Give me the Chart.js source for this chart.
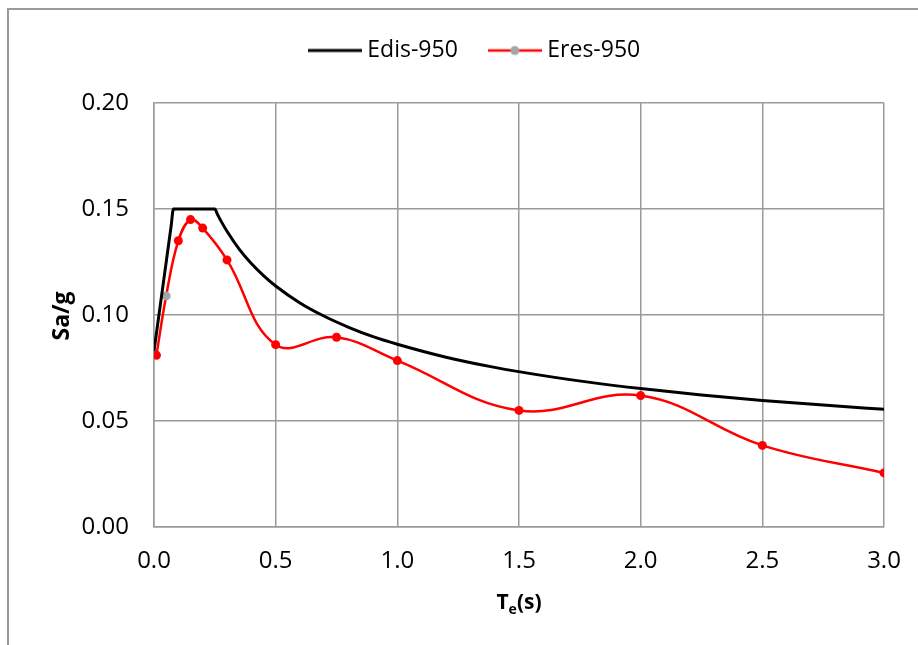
<!DOCTYPE html>
<html>
<head>
<meta charset="utf-8">
<script src="https://cdn.jsdelivr.net/npm/chart.js@4.4.1/dist/chart.umd.min.js"></script>
<style>
  html, body { margin: 0; padding: 0; background: #fff; }
  #wrap { position: relative; width: 918px; height: 645px; overflow: hidden; }
  #frame { position: absolute; left: 7px; top: 8px; width: 1000px; height: 1000px;
           border: 2px solid #9a9a9a; box-sizing: border-box; }
  #c { position: absolute; left: 0; top: 0; }
</style>
</head>
<body>
<div id="wrap">
  <div id="frame"></div>
  <canvas id="c" width="918" height="645"></canvas>
</div>
<script>
// Design spectrum (Edis-950): period T (s) and Sa/g
const edisPeriods = [0, 0.07, 0.08, 0.25, 0.26, 0.275, 0.3, 0.35, 0.4, 0.45, 0.5, 0.6, 0.7, 0.8, 0.9,
                     1.0, 1.2, 1.4, 1.6, 1.8, 2.0, 2.25, 2.5, 2.75, 3.0];
const edisSa = [0.083, 0.1416, 0.150, 0.150, 0.1477, 0.1444, 0.1395, 0.1311, 0.1243, 0.1186, 0.1137,
                0.1057, 0.0994, 0.0942, 0.0898, 0.0862, 0.0801, 0.0753, 0.0714, 0.0681, 0.0653,
                0.0623, 0.0597, 0.0575, 0.0555];

// Response spectrum (Eres-950)
const eresPeriods = [0.01, 0.05, 0.1, 0.15, 0.2, 0.3, 0.5, 0.75, 1.0, 1.5, 2.0, 2.5, 3.0];
const eresSa = [0.081, 0.109, 0.135, 0.145, 0.141, 0.126, 0.086, 0.0895, 0.0785, 0.055,
                0.062, 0.0385, 0.0255];

const seriesNames = ['Edis-950', 'Eres-950'];
const xTicks = { min: 0, max: 3.0, step: 0.5 };
const yTicks = { min: 0, max: 0.20, step: 0.05 };

const FONT = "'Open Sans', 'DejaVu Sans', sans-serif";
Chart.defaults.font.family = FONT;
Chart.defaults.color = '#000';

const toPoints = (xs, ys) => xs.map((x, i) => ({ x: x, y: ys[i] }));

// small legend swatches: a line segment, optionally with a marker in the middle
function swatch(color, width, markerColor) {
  const c = document.createElement('canvas');
  c.width = 54; c.height = 12;
  const g = c.getContext('2d');
  g.strokeStyle = color; g.lineWidth = width;
  g.beginPath(); g.moveTo(0, 6); g.lineTo(54, 6); g.stroke();
  if (markerColor) {
    g.fillStyle = markerColor;
    g.beginPath(); g.arc(27, 6, 4.5, 0, Math.PI * 2); g.fill();
  }
  return c;
}
const legendSwatches = [swatch('#000', 3), swatch('#ff0000', 2.5, '#a5a5a5')];

const LAYOUT = { left: 70, right: 34, top: 3, bottom: 0 };
const PLOT = { left: 154, top: 103, bottom: 527 };

// reserve a fixed band for the legend above the plot
const legendBand = {
  id: 'legendBand',
  beforeUpdate(chart) {
    const lg = chart.legend;
    if (lg && !lg._banded) {
      const fit = lg.fit;
      lg.fit = function () { fit.call(this); this.height = PLOT.top - LAYOUT.top; };
      lg._banded = true;
    }
  }
};

// axis titles (x title carries a subscript)
const axisTitles = {
  id: 'axisTitles',
  afterDraw(chart) {
    const { ctx, chartArea: a } = chart;
    ctx.save();
    ctx.fillStyle = '#000';
    ctx.translate(62, (a.top + a.bottom) / 2 + 1);
    ctx.rotate(-Math.PI / 2);
    ctx.font = 'bold 23px ' + FONT;
    ctx.textAlign = 'center';
    ctx.textBaseline = 'middle';
    ctx.fillText('Sa/g', 0, 0);
    ctx.restore();

    ctx.save();
    ctx.fillStyle = '#000';
    ctx.textBaseline = 'alphabetic';
    ctx.textAlign = 'left';
    const big = 'bold 21px ' + FONT, small = 'bold 14px ' + FONT;
    ctx.font = big; const wT = ctx.measureText('T').width; const wS = ctx.measureText('(s)').width;
    ctx.font = small; const wE = ctx.measureText('e').width;
    const total = wT + wE + wS;
    let x = (a.left + a.right) / 2 - total / 2;
    const base = a.bottom + 82;
    ctx.font = big; ctx.fillText('T', x, base); x += wT;
    ctx.font = small; ctx.fillText('e', x, base + 5); x += wE;
    ctx.font = big; ctx.fillText('(s)', x, base);
    ctx.restore();
  }
};

new Chart(document.getElementById('c'), {
  type: 'scatter',
  data: {
    datasets: [
      {
        label: seriesNames[0],
        data: toPoints(edisPeriods, edisSa),
        showLine: true,
        borderColor: '#000',
        backgroundColor: '#000',
        borderWidth: 3,
        pointRadius: 0,
        pointHoverRadius: 0,
        cubicInterpolationMode: 'monotone'
      },
      {
        label: seriesNames[1],
        data: toPoints(eresPeriods, eresSa),
        showLine: true,
        borderColor: '#ff0000',
        backgroundColor: '#ff0000',
        borderWidth: 2.5,
        pointRadius: 4.5,
        pointBorderWidth: 0,
        pointBackgroundColor: eresPeriods.map((_, i) => i === 1 ? '#a5a5a5' : '#ff0000'),
        pointBorderColor: eresPeriods.map((_, i) => i === 1 ? '#a5a5a5' : '#ff0000'),
        tension: 0.4
      }
    ]
  },
  options: {
    responsive: false,
    animation: false,
    layout: { padding: LAYOUT },
    plugins: {
      tooltip: { enabled: false },
      title: { display: false },
      legend: {
        position: 'top',
        align: 'center',
        labels: {
          usePointStyle: true,
          pointStyleWidth: 42,
          padding: 36,
          font: { size: 23 },
          color: '#000',
          generateLabels(chart) {
            const items = Chart.defaults.plugins.legend.labels.generateLabels(chart);
            items.forEach((it, i) => { it.pointStyle = legendSwatches[i]; });
            return items;
          }
        }
      }
    },
    scales: {
      x: {
        type: 'linear',
        min: xTicks.min,
        max: xTicks.max,
        afterFit(scale) {
          scale.height = 645 - PLOT.bottom - LAYOUT.bottom;
          scale.paddingLeft = 0;
          scale.paddingRight = 0;
        },
        ticks: {
          stepSize: xTicks.step,
          padding: 20,
          font: { size: 24 },
          color: '#000',
          callback: v => Number(v).toFixed(1)
        },
        grid: { color: '#9a9a9a', lineWidth: 1.5, drawTicks: false },
        border: { color: '#9a9a9a', width: 1.5 }
      },
      y: {
        min: yTicks.min,
        max: yTicks.max,
        afterFit(scale) { scale.width = PLOT.left - LAYOUT.left; },
        ticks: {
          stepSize: yTicks.step,
          padding: 25,
          font: { size: 24 },
          color: '#000',
          callback: v => Number(v).toFixed(2)
        },
        grid: { color: '#9a9a9a', lineWidth: 1.5, drawTicks: false },
        border: { color: '#9a9a9a', width: 1.5 }
      }
    }
  },
  plugins: [legendBand, axisTitles]
});
</script>
</body>
</html>
